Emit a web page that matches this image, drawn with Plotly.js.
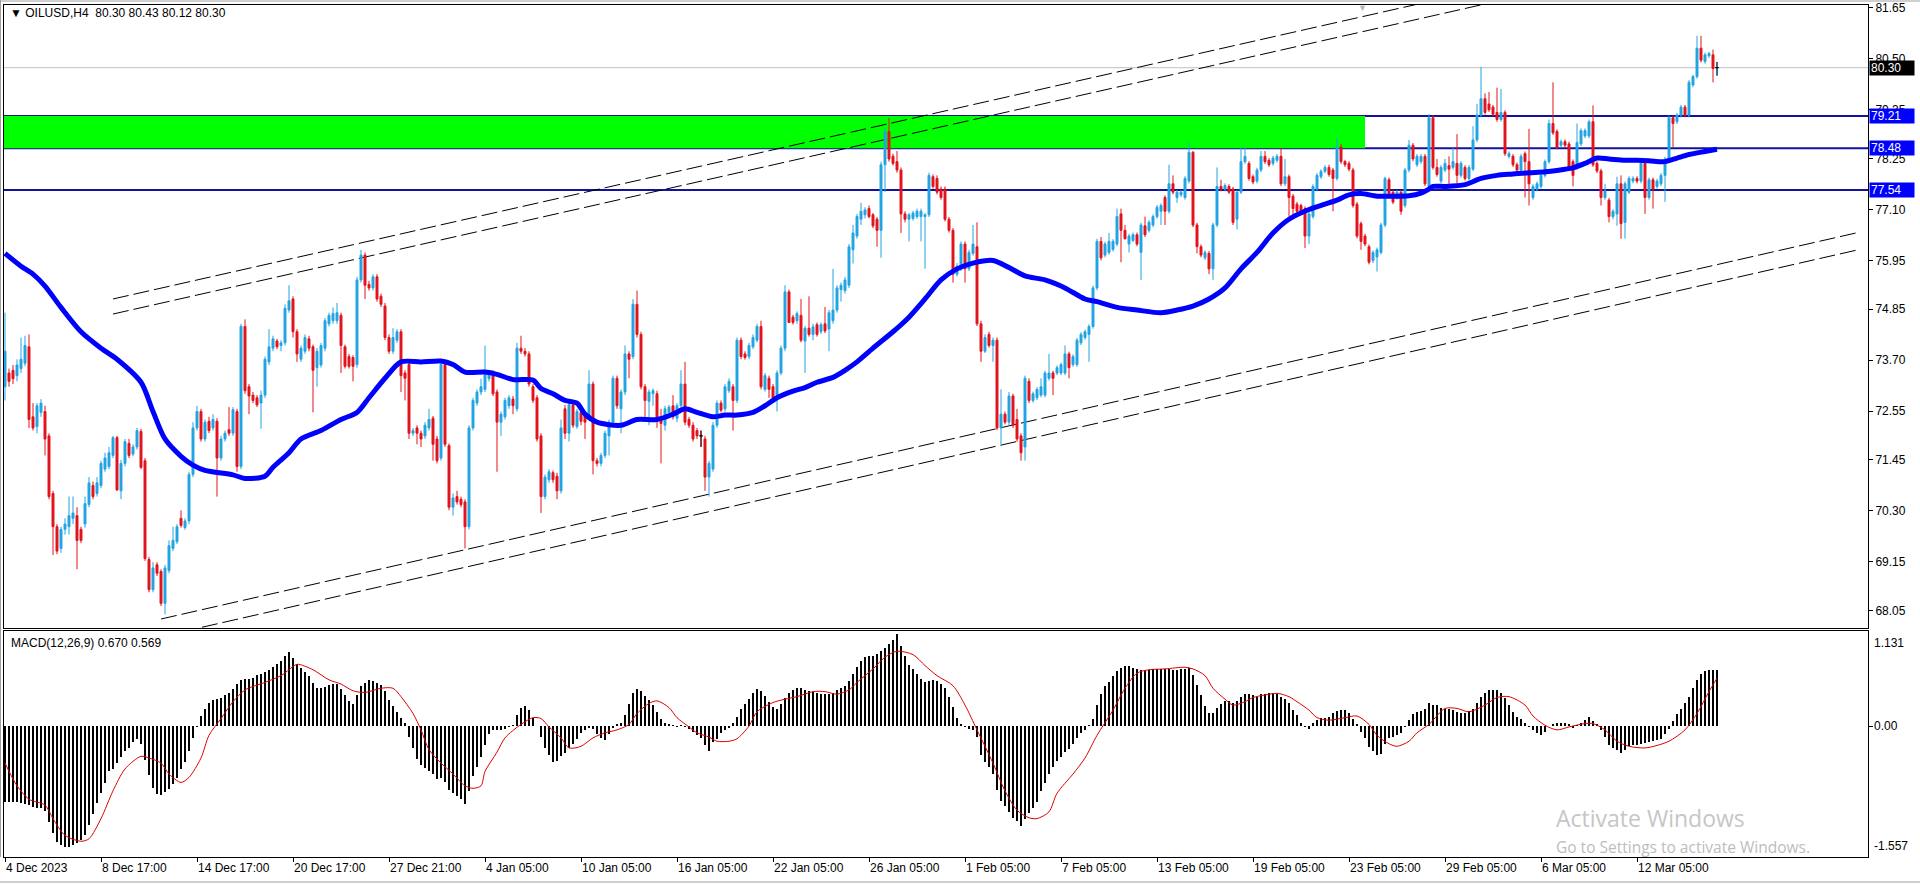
<!DOCTYPE html>
<html><head><meta charset="utf-8">
<script src="https://cdn.plot.ly/plotly-3.0.1.min.js"></script>
<style>html,body{margin:0;padding:0;background:#fff;overflow:hidden}#chart{width:1920px;height:885px}</style>
</head><body><div id="chart"></div>
<script>
const symbolName = "OILUSD,H4";
const priceOpen = [
73.10,73.41,73.47,73.35,73.51,73.63,74.00,72.42,72.20,72.52,
72.54,71.99,70.69,69.94,69.45,69.88,69.94,70.13,70.19,69.88,
70.00,70.44,70.87,70.69,70.87,71.24,71.30,71.55,71.95,70.75,
71.37,71.82,71.58,71.74,72.09,71.43,69.20,68.52,69.08,68.93,
68.21,68.95,69.45,69.60,70.13,69.92,70.07,71.12,72.17,72.54,
71.92,72.32,72.17,72.32,71.49,71.92,72.13,72.05,72.54,71.30,
74.46,73.10,72.91,72.85,72.73,72.91,73.66,73.97,74.13,74.03,
74.09,74.83,75.08,74.34,73.72,73.90,74.18,74.00,73.53,73.59,
73.97,74.52,74.59,74.59,74.71,74.00,73.78,73.76,73.60,75.51,
76.07,75.41,75.33,75.58,75.14,74.92,74.21,73.90,74.15,74.34,
73.41,73.60,72.05,72.17,72.05,71.99,72.17,72.39,71.92,71.49,
73.60,71.77,70.38,70.62,70.56,70.50,69.94,72.17,72.73,72.98,
73.04,73.28,73.41,72.98,72.30,72.42,72.67,72.82,72.60,73.97,
73.90,73.84,73.10,72.85,71.99,70.62,71.00,71.16,71.08,70.75,
72.60,72.05,72.69,72.20,72.52,72.48,72.42,73.16,71.43,71.37,
71.55,71.99,72.30,73.29,72.60,72.98,73.84,73.78,74.96,74.28,
73.10,72.77,72.94,72.94,72.39,72.23,72.52,72.67,72.39,72.67,
73.16,72.36,72.23,72.11,71.99,71.92,71.06,71.24,72.23,72.73,
72.60,73.01,73.10,72.79,74.15,73.84,73.78,74.00,74.15,74.46,
73.04,73.29,73.10,72.91,73.41,73.97,75.24,74.67,74.59,74.71,
74.13,74.42,74.28,74.50,74.34,74.52,74.40,74.59,74.83,75.29,
75.27,75.39,76.19,76.50,76.88,76.98,77.12,76.98,76.88,76.63,
78.11,78.86,78.30,78.18,77.99,77.00,76.88,76.90,76.94,76.94,
76.94,76.98,77.84,77.80,77.56,77.56,76.88,76.63,75.64,75.76,
76.32,75.76,76.11,76.26,74.52,73.90,74.28,74.03,74.15,72.17,
72.48,72.30,72.89,72.36,71.99,71.74,73.22,72.79,72.85,72.91,
72.91,73.29,73.41,73.41,73.41,73.41,73.84,73.60,73.60,74.09,
74.21,74.28,74.46,75.33,76.38,76.07,76.13,76.20,76.32,77.00,
76.63,76.32,76.40,76.53,76.13,76.73,76.63,76.75,76.94,77.06,
77.37,77.06,77.68,77.37,77.43,77.37,77.74,78.39,76.75,76.26,
76.01,76.11,75.76,76.75,77.62,77.56,77.62,77.56,76.88,77.49,
78.18,78.14,77.84,77.74,77.99,78.30,78.21,78.14,78.21,78.30,
77.68,77.84,77.40,77.22,77.19,77.12,76.50,76.94,77.56,77.84,
77.96,78.05,77.99,77.80,78.51,78.18,78.14,77.99,77.22,76.78,
76.50,76.26,75.95,76.03,76.13,76.75,77.77,77.49,77.37,77.49,
77.19,77.99,78.55,78.11,78.18,78.30,77.62,79.17,78.05,77.74,
77.99,78.09,78.05,78.14,77.87,78.05,77.80,78.01,78.67,79.23,
79.60,79.48,79.41,79.29,79.13,79.29,78.30,78.30,78.11,77.99,
78.36,78.18,77.37,77.56,77.62,77.87,78.18,79.04,78.86,78.55,
78.63,78.58,78.18,78.05,78.58,78.76,78.76,79.08,78.14,77.97,
77.37,77.31,76.94,77.00,77.68,76.81,77.49,77.74,77.80,77.74,
78.14,77.37,77.77,77.62,77.68,77.87,78.21,79.17,79.08,79.23,
79.41,79.23,79.91,80.10,80.74,80.44,80.57,80.59,80.30];
const priceHigh = [
74.77,73.51,73.59,73.72,74.21,74.25,74.28,72.73,72.73,72.82,
72.67,72.05,70.75,70.00,69.94,70.13,70.62,70.62,70.38,69.94,
70.62,71.06,70.96,71.06,71.43,71.61,71.74,71.99,71.99,71.45,
71.92,71.92,71.80,72.17,72.15,71.49,69.26,69.14,69.14,68.98,
69.08,69.63,69.94,70.00,70.31,70.13,71.18,72.30,72.67,72.60,
72.36,72.42,72.48,72.39,71.99,72.11,72.64,72.64,72.60,74.52,
74.62,73.16,72.98,72.91,73.01,73.78,74.40,74.25,74.18,74.15,
74.96,75.39,75.14,74.40,74.03,74.28,74.25,74.05,73.97,74.09,
74.65,74.77,74.89,74.99,74.77,74.05,73.84,73.81,75.58,76.19,
76.13,75.49,75.64,75.64,75.20,74.99,74.28,74.42,74.40,74.40,
73.47,73.66,72.17,72.23,72.11,72.30,72.60,72.44,71.99,73.72,
73.66,71.82,70.69,70.75,70.62,70.56,72.23,72.85,73.04,73.28,
74.03,73.47,73.47,73.04,72.54,72.85,72.91,72.89,74.09,74.25,
73.97,73.90,73.16,72.91,72.05,71.12,71.24,71.21,71.16,72.36,
72.69,72.73,72.79,72.60,72.57,72.54,73.47,73.22,71.49,71.61,
72.11,72.36,73.35,73.35,73.04,74.03,73.90,75.08,75.27,74.34,
73.16,73.04,73.06,73.01,72.60,72.67,72.69,72.91,72.73,73.47,
73.66,72.42,72.30,72.17,72.11,71.99,71.43,72.30,72.79,72.79,
73.16,73.29,73.16,74.21,74.21,73.90,74.09,74.28,74.52,74.59,
73.41,73.35,73.16,73.47,74.03,75.39,75.29,74.72,74.80,75.08,
74.47,75.14,74.52,74.55,74.55,74.90,74.83,75.76,75.39,75.45,
75.58,76.32,76.75,77.00,77.25,77.15,77.19,77.02,76.93,78.18,
78.92,79.17,78.36,78.42,78.05,77.06,77.02,77.07,77.12,77.12,
77.02,77.93,77.89,77.87,77.62,77.62,76.93,76.68,75.89,76.38,
76.38,76.19,76.75,76.81,74.59,74.28,74.34,74.21,74.21,73.04,
72.54,72.98,72.94,72.60,72.05,73.35,73.29,72.99,73.09,73.29,
73.46,73.84,73.46,73.58,73.64,74.03,73.89,73.83,74.20,74.33,
74.39,74.51,75.38,76.44,76.48,76.37,76.57,76.43,77.12,77.12,
76.75,76.55,76.58,76.58,76.80,76.94,76.86,76.99,77.20,77.24,
77.42,78.11,77.87,77.54,77.54,77.85,78.61,78.42,76.80,76.31,
76.18,76.16,76.80,78.05,77.77,77.69,77.67,77.61,77.54,78.49,
78.51,78.19,77.89,78.04,78.42,78.42,78.26,78.31,78.35,78.49,
78.24,77.89,77.45,77.27,77.23,77.17,77.05,77.67,77.92,78.01,
78.10,78.11,78.04,78.71,78.58,78.22,78.19,78.04,77.27,76.83,
76.55,76.31,76.18,76.24,76.80,77.84,77.82,77.54,77.54,77.54,
78.04,78.67,78.60,78.35,78.35,78.35,79.25,79.23,78.24,78.10,
78.24,78.30,78.49,78.80,78.19,78.10,78.10,78.98,79.48,80.32,
79.72,79.75,79.46,79.85,79.82,79.34,78.41,78.35,78.16,78.35,
78.41,78.92,77.67,77.73,77.92,78.23,79.13,79.97,78.91,78.68,
78.68,78.63,78.23,79.04,78.93,78.93,79.13,79.45,78.19,78.02,
77.68,77.36,77.11,77.84,77.87,77.73,77.85,77.85,77.85,78.24,
78.19,77.82,77.82,77.79,77.92,78.29,79.22,79.22,79.28,79.46,
79.46,80.02,80.14,81.02,81.02,80.64,80.66,80.71,80.43];
const priceLow = [
72.79,73.10,73.16,73.22,73.41,73.56,72.17,72.11,72.05,72.42,
71.55,70.56,69.30,69.32,69.35,69.76,69.76,70.00,68.98,69.57,
69.92,70.38,70.56,70.62,70.81,71.18,71.24,71.49,70.75,70.56,
71.30,71.49,71.53,71.68,71.24,69.17,68.46,68.46,68.83,68.15,
67.96,68.89,69.39,69.55,69.92,69.87,70.00,71.06,72.11,71.86,
71.86,72.05,72.11,70.62,71.43,71.86,71.99,71.99,71.18,71.24,
72.94,72.48,72.73,72.64,72.15,72.85,73.59,73.90,73.95,73.90,
74.03,74.77,74.21,73.66,73.66,73.84,73.90,72.52,73.10,73.53,
73.90,74.46,74.52,74.52,73.41,73.51,73.51,73.22,73.53,75.45,
75.08,75.27,75.27,75.02,74.90,74.15,73.84,73.84,74.09,72.98,
72.79,71.92,71.99,71.80,71.74,71.92,72.11,71.43,71.37,71.43,
71.74,70.31,70.19,70.44,70.38,69.45,69.88,72.11,72.67,72.91,
72.98,73.22,72.89,71.18,71.99,72.36,72.60,72.48,72.54,73.84,
73.78,73.10,72.73,71.86,70.25,70.56,70.93,70.93,70.56,70.69,
71.92,71.86,72.17,72.15,72.23,71.92,72.36,71.12,71.30,71.30,
71.49,71.55,72.23,72.60,72.05,72.91,73.29,73.72,74.21,73.04,
72.42,72.23,72.67,72.17,71.37,72.11,72.47,72.36,72.30,72.60,
72.23,72.17,71.86,71.92,71.74,70.75,70.62,71.18,72.17,72.52,
72.54,72.96,72.11,72.73,73.72,73.71,73.72,73.95,74.10,73.04,
72.99,72.85,72.79,72.54,73.36,73.90,74.55,74.50,74.52,74.10,
73.41,74.23,74.15,74.23,74.29,74.31,73.90,74.52,74.77,75.02,
75.20,75.33,75.88,76.44,76.75,76.90,76.90,76.68,76.26,76.01,
77.49,78.18,78.09,77.93,76.57,76.81,76.38,76.85,76.89,76.38,
75.76,76.93,77.57,77.44,77.32,76.83,76.58,75.45,75.59,75.71,
75.45,75.71,76.06,74.47,73.66,73.86,73.98,73.66,72.12,71.80,
72.25,72.23,72.17,71.86,71.43,71.43,72.73,72.74,72.80,72.86,
72.86,73.24,72.91,73.36,73.36,73.36,73.29,73.55,73.55,74.04,
74.16,73.66,74.41,75.28,75.95,76.02,76.08,76.15,76.27,75.91,
76.42,76.13,76.36,76.27,75.51,76.48,76.58,76.70,76.89,76.75,
76.75,77.01,77.44,77.25,77.38,77.32,77.69,76.70,76.11,76.02,
75.96,75.64,75.51,76.70,77.51,77.51,77.45,76.75,76.65,77.45,
78.13,77.75,77.67,77.69,77.94,78.13,78.06,78.09,78.16,77.63,
77.63,76.94,76.88,77.01,77.01,76.23,76.32,76.89,77.51,77.79,
77.92,77.84,77.06,77.75,78.13,78.06,77.96,77.14,76.45,76.19,
76.27,75.86,75.89,75.70,76.08,76.70,77.38,77.22,77.32,76.98,
77.14,77.94,78.19,78.06,78.13,77.63,77.57,78.00,77.84,77.69,
77.94,77.68,78.00,77.68,77.82,77.75,77.75,77.97,78.62,79.18,
79.24,79.30,79.20,79.08,79.08,78.31,78.25,78.06,77.94,77.94,
77.37,77.19,77.32,77.51,77.57,77.82,78.13,78.78,78.46,78.50,
78.50,78.00,77.62,78.00,78.53,78.71,78.71,78.06,77.92,77.19,
77.32,76.81,76.88,76.73,76.44,76.44,77.45,77.69,77.69,77.69,
77.00,77.32,77.12,77.57,77.63,77.27,78.16,78.51,79.03,79.18,
79.18,79.18,79.86,80.05,80.42,80.39,80.52,79.97,80.12];
const priceClose = [
73.90,73.22,73.28,73.59,73.72,74.03,72.36,72.17,72.67,72.73,
71.92,70.62,69.94,69.39,69.88,70.00,70.19,70.25,69.63,69.63,
70.46,70.93,70.62,70.93,71.37,71.49,71.61,71.95,70.77,71.37,
71.86,71.55,71.74,72.11,71.28,69.22,68.52,69.01,68.89,68.21,
69.01,69.51,69.63,69.94,69.97,70.07,71.12,72.17,72.54,71.92,
72.30,72.11,72.36,71.49,71.92,72.05,72.05,72.58,71.30,74.46,
73.01,72.89,72.79,72.69,72.91,73.72,74.00,74.18,74.00,74.09,
74.87,75.04,74.34,73.84,73.97,74.21,73.97,73.47,73.90,74.03,
74.59,74.71,74.75,74.77,74.03,73.56,73.56,73.56,75.51,76.07,
75.39,75.33,75.58,75.08,74.96,74.21,73.90,74.21,74.34,73.35,
73.29,72.05,72.11,72.05,71.92,72.23,72.36,71.80,71.43,73.60,
71.80,70.38,70.59,70.50,70.44,69.94,72.17,72.79,72.98,73.10,
73.47,73.41,72.94,72.30,72.48,72.79,72.85,72.67,73.97,73.90,
73.84,73.16,72.79,71.92,70.62,71.06,71.18,71.00,70.75,72.17,
72.05,72.69,72.23,72.54,72.32,72.30,73.16,71.43,71.37,71.55,
72.05,72.30,73.29,72.67,72.98,73.84,73.72,74.96,74.28,73.10,
72.79,72.98,73.01,72.36,72.27,72.60,72.64,72.42,72.67,73.16,
72.30,72.23,71.92,71.99,71.99,71.06,71.37,72.23,72.73,72.57,
73.10,73.22,72.79,74.15,73.78,73.76,74.03,74.21,74.46,73.10,
73.35,73.04,72.85,73.41,73.97,75.24,74.55,74.55,74.75,74.15,
74.42,74.28,74.45,74.28,74.50,74.36,74.77,74.83,75.33,75.39,
75.51,76.26,76.57,76.94,77.06,77.09,76.94,76.73,76.63,78.11,
78.86,78.24,78.14,77.99,77.00,76.88,76.98,77.02,77.06,77.06,
76.98,77.87,77.62,77.49,77.37,76.88,76.63,75.64,75.82,76.32,
75.76,76.13,76.32,74.52,73.90,74.21,74.03,74.15,72.17,72.48,
72.30,72.89,72.23,71.92,71.61,73.29,72.79,72.94,73.04,73.10,
73.41,73.41,73.29,73.53,73.60,73.84,73.53,73.78,74.15,74.28,
74.34,74.46,75.33,76.38,76.01,76.32,76.38,76.38,76.94,76.63,
76.44,76.50,76.53,76.32,76.75,76.53,76.81,76.94,77.15,77.19,
77.06,77.68,77.49,77.49,77.49,77.80,78.39,76.75,76.26,76.07,
76.13,75.76,76.75,77.62,77.56,77.64,77.49,76.81,77.49,78.18,
78.30,77.80,77.72,77.99,78.30,78.18,78.11,78.26,78.30,77.68,
77.84,77.37,77.12,77.06,77.06,76.50,77.00,77.62,77.87,77.96,
78.05,77.89,77.80,78.51,78.18,78.11,78.01,77.19,76.50,76.38,
76.32,75.91,76.13,76.19,76.75,77.80,77.43,77.27,77.49,77.06,
77.99,78.55,78.24,78.30,78.30,77.68,79.17,78.05,77.89,78.05,
78.14,78.01,78.18,77.87,78.14,77.80,78.05,78.67,79.23,79.60,
79.29,79.35,79.25,79.13,79.29,78.36,78.36,78.11,77.99,78.30,
78.18,77.68,77.62,77.68,77.87,78.18,79.04,78.83,78.51,78.63,
78.55,78.05,77.87,78.61,78.88,78.88,79.08,78.11,77.97,77.37,
77.52,76.94,77.06,77.68,76.78,77.68,77.80,77.80,77.74,78.14,
77.37,77.77,77.56,77.74,77.87,78.24,79.17,79.04,79.23,79.41,
79.23,79.97,80.10,80.74,80.47,80.59,80.62,80.28,80.30];

const maIdx = [0,4,7,10,14,19,24,28,34,37,40,44,47,50,57,60,65,67,71,74,79,84,88,91,95,99,104,109,112,115,120,123,127,132,134,137,140,143,145,148,154,158,163,167,170,173,177,180,183,187,190,193,197,200,203,207,210,213,217,222,226,230,234,238,242,247,251,255,260,265,270,273,278,283,289,293,297,301,305,309,313,317,321,326,330,333,336,339,343,347,351,354,356,357,360,365,369,373,377,381,385,390,392,395,398,401,405,408,411,415,418,421,425,428];
const maVal = [76.11,75.82,75.64,75.37,74.89,74.34,73.97,73.72,73.20,72.54,71.92,71.53,71.33,71.21,71.11,71.03,71.08,71.28,71.61,71.92,72.11,72.36,72.52,72.85,73.29,73.66,73.66,73.68,73.60,73.43,73.43,73.38,73.26,73.25,73.06,72.94,72.79,72.73,72.48,72.30,72.23,72.36,72.36,72.48,72.60,72.52,72.42,72.46,72.46,72.52,72.67,72.85,73.00,73.08,73.20,73.31,73.47,73.66,73.97,74.34,74.67,75.08,75.51,75.76,75.89,75.95,75.79,75.60,75.51,75.33,75.08,75.02,74.89,74.83,74.77,74.83,74.92,75.08,75.33,75.76,76.13,76.57,76.88,77.10,77.22,77.31,77.43,77.46,77.40,77.40,77.41,77.47,77.56,77.62,77.62,77.66,77.80,77.87,77.90,77.93,77.95,78.01,78.04,78.14,78.26,78.24,78.21,78.21,78.20,78.18,78.26,78.34,78.41,78.46];

const macdHist = [
-0.904,-0.904,-0.904,-0.904,-0.917,-0.931,-0.944,-0.957,-0.970,-0.970,
-1.010,-1.136,-1.268,-1.380,-1.420,-1.433,-1.433,-1.413,-1.387,-1.354,
-1.301,-1.182,-1.050,-0.917,-0.792,-0.673,-0.540,-0.507,-0.441,-0.362,
-0.296,-0.256,-0.190,-0.150,-0.210,-0.408,-0.587,-0.739,-0.812,-0.818,
-0.785,-0.752,-0.693,-0.613,-0.507,-0.428,-0.296,-0.144,-0.011,0.121,
0.207,0.273,0.312,0.319,0.339,0.365,0.392,0.438,0.498,0.544,
0.564,0.564,0.577,0.603,0.623,0.643,0.670,0.703,0.736,0.769,
0.828,0.881,0.815,0.736,0.689,0.643,0.590,0.511,0.458,0.451,
0.465,0.484,0.498,0.498,0.445,0.365,0.299,0.260,0.365,0.471,
0.511,0.544,0.537,0.517,0.491,0.418,0.306,0.234,0.167,0.101,
0.035,-0.124,-0.256,-0.388,-0.461,-0.501,-0.534,-0.567,-0.626,-0.613,
-0.659,-0.759,-0.798,-0.831,-0.864,-0.924,-0.772,-0.593,-0.487,-0.362,
-0.230,-0.097,-0.051,-0.045,-0.045,-0.031,-0.011,0.015,0.134,0.214,
0.234,0.194,0.101,0.002,-0.124,-0.256,-0.349,-0.428,-0.415,-0.355,
-0.316,-0.256,-0.216,-0.150,-0.084,-0.051,-0.018,-0.038,-0.091,-0.137,
-0.170,-0.091,-0.025,0.028,0.035,0.134,0.266,0.398,0.445,0.412,
0.359,0.306,0.247,0.167,0.088,0.041,0.022,0.008,-0.005,0.015,
-0.005,-0.038,-0.071,-0.104,-0.137,-0.230,-0.296,-0.190,-0.150,-0.084,
-0.045,-0.018,0.041,0.114,0.207,0.266,0.326,0.392,0.445,0.412,
0.359,0.286,0.227,0.207,0.260,0.339,0.398,0.432,0.451,0.451,
0.432,0.418,0.405,0.392,0.385,0.379,0.379,0.398,0.425,0.451,
0.478,0.537,0.617,0.703,0.769,0.822,0.828,0.835,0.861,0.888,
0.927,0.974,1.027,1.100,0.947,0.828,0.729,0.676,0.623,0.564,
0.524,0.537,0.550,0.531,0.504,0.458,0.352,0.227,0.101,0.022,
-0.011,-0.031,-0.045,-0.130,-0.342,-0.428,-0.487,-0.573,-0.759,-0.891,
-0.950,-1.023,-1.090,-1.129,-1.189,-1.103,-1.037,-0.970,-0.898,-0.772,
-0.673,-0.573,-0.481,-0.415,-0.362,-0.309,-0.269,-0.210,-0.144,-0.084,
-0.045,0.008,0.088,0.253,0.385,0.471,0.524,0.590,0.650,0.696,
0.716,0.716,0.696,0.683,0.670,0.670,0.670,0.676,0.676,0.683,
0.683,0.676,0.670,0.670,0.676,0.683,0.696,0.603,0.484,0.365,
0.234,0.160,0.154,0.214,0.266,0.299,0.299,0.279,0.299,0.346,
0.379,0.385,0.365,0.352,0.379,0.385,0.398,0.398,0.385,0.352,
0.319,0.273,0.194,0.127,0.041,-0.011,-0.031,0.035,0.074,0.101,
0.101,0.108,0.154,0.174,0.187,0.187,0.154,0.088,0.022,-0.071,
-0.144,-0.243,-0.296,-0.342,-0.335,-0.210,-0.144,-0.130,-0.111,-0.078,
-0.011,0.074,0.141,0.167,0.174,0.207,0.273,0.253,0.253,0.220,
0.207,0.200,0.187,0.167,0.154,0.154,0.174,0.207,0.273,0.352,
0.398,0.432,0.432,0.425,0.398,0.332,0.247,0.167,0.114,0.081,
0.041,-0.011,-0.051,-0.084,-0.111,-0.071,0.002,0.028,0.035,0.035,
0.035,0.022,-0.018,0.008,0.041,0.074,0.108,0.061,0.022,-0.045,
-0.130,-0.223,-0.256,-0.289,-0.322,-0.283,-0.236,-0.230,-0.223,-0.210,
-0.203,-0.190,-0.183,-0.170,-0.150,-0.091,-0.031,0.061,0.141,0.207,
0.273,0.352,0.451,0.550,0.617,0.656,0.670,0.670,0.670];

const sigIdx = [0,3,6,10,12,15,19,21,24,27,30,34,36,39,41,44,46,49,51,54,57,60,65,69,71,73,77,81,84,87,90,94,97,99,102,104,106,109,112,115,117,119,120,123,125,129,132,134,136,139,141,144,147,150,153,156,158,161,163,166,168,171,173,176,178,181,183,186,188,192,195,198,202,205,208,211,213,217,220,223,227,230,233,237,240,243,247,250,253,256,258,261,263,267,270,273,277,280,283,286,290,295,297,300,302,305,307,310,312,315,318,321,323,326,328,331,335,338,341,343,346,348,351,353,356,357,360,363,366,370,373,376,380,382,385,388,391,395,397,400,403,406,410,413,416,420,423,426,428];
const sigVal = [-0.44,-0.71,-0.87,-0.94,-1.10,-1.30,-1.37,-1.34,-1.10,-0.77,-0.51,-0.36,-0.38,-0.44,-0.57,-0.67,-0.61,-0.38,-0.11,0.09,0.29,0.43,0.52,0.60,0.67,0.735,0.67,0.55,0.50,0.42,0.40,0.45,0.45,0.35,0.15,-0.045,-0.28,-0.44,-0.57,-0.71,-0.74,-0.71,-0.54,-0.31,-0.14,0.02,0.10,0.09,-0.01,-0.14,-0.26,-0.24,-0.14,-0.08,-0.045,0.02,0.15,0.27,0.30,0.22,0.10,-0.01,-0.08,-0.13,-0.18,-0.18,-0.15,0.00,0.17,0.28,0.32,0.35,0.41,0.41,0.38,0.43,0.52,0.68,0.82,0.89,0.85,0.72,0.60,0.48,0.25,-0.045,-0.44,-0.77,-1.00,-1.09,-1.10,-1.02,-0.80,-0.57,-0.38,-0.11,0.19,0.45,0.63,0.67,0.68,0.70,0.68,0.60,0.45,0.32,0.25,0.29,0.34,0.37,0.39,0.35,0.29,0.19,0.10,0.07,0.10,0.12,0.02,-0.11,-0.21,-0.24,-0.18,-0.08,0.02,0.07,0.21,0.21,0.17,0.25,0.34,0.35,0.25,0.12,0.01,-0.045,-0.01,0.03,0.03,-0.045,-0.18,-0.24,-0.26,-0.23,-0.18,-0.045,0.15,0.41,0.569];

const hLevels = [79.21, 78.48, 77.54];
const currentPrice = 80.30;
const zoneTop = 79.21, zoneBottom = 78.48, zoneEndIdx = 340;
const trendX0 = [27, 27, 39, 39];
const trendY0 = [75.08, 74.74, 67.857, 67.46];
const trendX1 = [400, 400, 463.25, 463.25];
const trendY1 = [82.69, 82.35, 76.58, 76.19];
const priceTicks = [81.65, 80.50, 79.35, 78.25, 77.10, 75.95, 74.85, 73.70, 72.55, 71.45, 70.30, 69.15, 68.05];
const macdScale = [1.131, 0.00, -1.557];
const timeTickIdx = [0,24,48,72,96,120,144,168,192,216,240,264,288,312,336,360,384,408];
const timeTickText = ["4 Dec 2023","8 Dec 17:00","14 Dec 17:00","20 Dec 17:00","27 Dec 21:00","4 Jan 05:00","10 Jan 05:00","16 Jan 05:00","22 Jan 05:00","26 Jan 05:00","1 Feb 05:00","7 Feb 05:00","13 Feb 05:00","19 Feb 05:00","23 Feb 05:00","29 Feb 05:00","6 Mar 05:00","12 Mar 05:00"];

// ---------- drawing ----------
const W = 1920, H = 885;
const pxL = 4, pxR = 1868, mainTop = 5, mainBot = 628, macdTop = 631, macdBot = 857;
const BULL = '#22a4e2', BEAR = '#e2131b', FONT = '"Liberation Sans", Arial, sans-serif';
const idx = priceOpen.map((_, i) => i);

const candles = {
  type: 'candlestick', x: idx, open: priceOpen, high: priceHigh, low: priceLow, close: priceClose,
  xaxis: 'x', yaxis: 'y', whiskerwidth: 0, hoverinfo: 'skip', showlegend: false,
  increasing: {line: {color: BULL, width: 1}, fillcolor: BULL},
  decreasing: {line: {color: BEAR, width: 1}, fillcolor: BEAR}
};
const dx = [], dy = [];
idx.forEach(i => {
  if (priceOpen[i] === priceClose[i]) {
    dx.push(i, i, null, i - 0.5, i + 0.5, null);
    dy.push(priceLow[i], priceHigh[i], null, priceOpen[i], priceOpen[i], null);
  }
});
const dojis = {type: 'scatter', mode: 'lines', x: dx, y: dy, xaxis: 'x', yaxis: 'y',
  line: {color: '#000', width: 1}, hoverinfo: 'skip', showlegend: false};
const ma = {type: 'scatter', mode: 'lines', x: maIdx, y: maVal, xaxis: 'x', yaxis: 'y',
  line: {color: '#0000ff', width: 5, shape: 'spline', smoothing: 0.8}, hoverinfo: 'skip', showlegend: false};
const hist = {type: 'bar', x: idx, y: macdHist, xaxis: 'x2', yaxis: 'y2', width: 0.68,
  marker: {color: '#000', line: {width: 0}}, hoverinfo: 'skip', showlegend: false};
const sig = {type: 'scatter', mode: 'lines', x: sigIdx, y: sigVal, xaxis: 'x2', yaxis: 'y2',
  line: {color: '#e00000', width: 1, shape: 'spline', smoothing: 0.8}, hoverinfo: 'skip', showlegend: false};

const shapes = [];
shapes.push({type: 'rect', xref: 'x', yref: 'y', x0: -1, x1: zoneEndIdx, y0: zoneBottom, y1: zoneTop,
  fillcolor: '#00ff00', line: {width: 0}, layer: 'below'});
shapes.push({type: 'line', xref: 'x domain', x0: 0, x1: 1, yref: 'y', y0: currentPrice, y1: currentPrice,
  line: {color: '#c0c0c0', width: 1}, layer: 'below'});
hLevels.forEach(v => shapes.push({type: 'line', xref: 'x domain', x0: 0, x1: 1, yref: 'y', y0: v, y1: v,
  line: {color: '#12129e', width: 2}, layer: 'below'}));
trendX0.forEach((x0, k) => shapes.push({type: 'line', xref: 'x', yref: 'y', x0: x0, y0: trendY0[k], x1: trendX1[k], y1: trendY1[k],
  line: {color: '#000', width: 1, dash: '16px,5px'}, layer: 'below'}));
// window chrome
shapes.push({type: 'line', xref: 'paper', yref: 'paper', x0: 0.5 / W, x1: 0.5 / W, y0: 1 - macdBot / H, y1: 1, line: {color: '#a0a0a0', width: 1}});
shapes.push({type: 'line', xref: 'paper', yref: 'paper', x0: 0, x1: 1, y0: 1 - 1 / H, y1: 1 - 1 / H, line: {color: '#a0a0a0', width: 1}});
shapes.push({type: 'line', xref: 'paper', yref: 'paper', x0: 0, x1: 1, y0: 3 / H, y1: 3 / H, line: {color: '#a0a0a0', width: 1}});

const ann = [];
const last = priceOpen.length - 1;
ann.push({xref: 'paper', yref: 'paper', x: 8 / W, y: 1 - 13 / H, xanchor: 'left', yanchor: 'middle', showarrow: false,
  text: '\u25BC ' + symbolName + '\u00a0\u00a0' + [priceOpen[last], priceHigh[last], priceLow[last], priceClose[last]].map(v => v.toFixed(2)).join(' '),
  font: {family: FONT, size: 12, color: '#000'}});
ann.push({xref: 'paper', yref: 'paper', x: 9 / W, y: 1 - 643 / H, xanchor: 'left', yanchor: 'middle', showarrow: false,
  text: 'MACD(12,26,9) ' + macdHist[last].toFixed(3) + ' ' + sigVal[sigVal.length - 1].toFixed(3),
  font: {family: FONT, size: 12, color: '#000'}});
// value boxes on the price scale
hLevels.forEach(v => ann.push({xref: 'paper', yref: 'y', x: (pxR + 1) / W, y: v, xanchor: 'left', yanchor: 'middle', showarrow: false,
  text: v.toFixed(2), bgcolor: '#0000ff', borderpad: 1, width: 42, height: 12, align: 'left',
  font: {family: FONT, size: 12, color: '#fff'}}));
ann.push({xref: 'paper', yref: 'y', x: (pxR + 1) / W, y: currentPrice, xanchor: 'left', yanchor: 'middle', showarrow: false,
  text: currentPrice.toFixed(2), bgcolor: '#000', borderpad: 1, width: 42, height: 12, align: 'left',
  font: {family: FONT, size: 12, color: '#fff'}});
// MACD scale labels
ann.push({xref: 'paper', yref: 'y2', x: (pxR + 4) / W, y: macdScale[0], xanchor: 'left', yanchor: 'top', yshift: -3, showarrow: false,
  text: macdScale[0].toFixed(3), font: {family: FONT, size: 12, color: '#000'}});
ann.push({xref: 'paper', yref: 'y2', x: (pxR + 4) / W, y: macdScale[1], xanchor: 'left', yanchor: 'middle', showarrow: false,
  text: macdScale[1].toFixed(2), font: {family: FONT, size: 12, color: '#000'}});
ann.push({xref: 'paper', yref: 'y2', x: (pxR + 4) / W, y: macdScale[2], xanchor: 'left', yanchor: 'bottom', yshift: 2, showarrow: false,
  text: macdScale[2].toFixed(3), font: {family: FONT, size: 12, color: '#000'}});
// chart-shift marker
ann.push({xref: 'paper', yref: 'paper', x: 1362 / W, y: 1 - 8 / H, xanchor: 'center', yanchor: 'middle', showarrow: false,
  text: '\u25BC', font: {family: FONT, size: 9, color: '#b8b8b8'}});
// OS watermark
ann.push({xref: 'paper', yref: 'paper', x: 1554 / W, y: 1 - 818 / H, xanchor: 'left', yanchor: 'middle', showarrow: false,
  text: 'Activate Windows', font: {family: '"Open Sans", sans-serif', size: 23, color: '#c6c6c6'}});
ann.push({xref: 'paper', yref: 'paper', x: 1554 / W, y: 1 - 847 / H, xanchor: 'left', yanchor: 'middle', showarrow: false,
  text: 'Go to Settings to activate Windows.', font: {family: '"Open Sans", sans-serif', size: 15.5, color: '#bdbdbd'}});

const xRange = [-0.25, -0.25 + (pxR - pxL) / 4];
const layout = {
  width: W, height: H, margin: {l: 0, r: 0, t: 0, b: 0}, paper_bgcolor: '#fff', plot_bgcolor: '#fff',
  showlegend: false, hovermode: false, bargap: 0, boxgap: 0.3,
  font: {family: FONT, size: 12, color: '#000'},
  xaxis: {domain: [pxL / W, pxR / W], range: xRange, anchor: 'y', showticklabels: false, ticks: '',
    showgrid: false, zeroline: false, showline: true, linecolor: '#000', linewidth: 1, mirror: true,
    rangeslider: {visible: false}, fixedrange: true},
  xaxis2: {domain: [pxL / W, pxR / W], range: xRange, anchor: 'y2', matches: 'x', showgrid: false, zeroline: false,
    showline: true, linecolor: '#000', linewidth: 1, mirror: true, ticks: 'outside', ticklen: 4, tickcolor: '#000',
    tickmode: 'array', tickvals: timeTickIdx, ticktext: timeTickText, ticklabelposition: 'outside right',
    tickfont: {family: FONT, size: 12, color: '#000'}, rangeslider: {visible: false}, fixedrange: true},
  yaxis: {domain: [1 - mainBot / H, 1 - mainTop / H], range: [67.654, 81.715], anchor: 'x', side: 'right',
    showgrid: false, zeroline: false, showline: true, linecolor: '#000', linewidth: 1, mirror: true,
    ticks: 'outside', ticklen: 4, tickcolor: '#000', tickmode: 'array', tickvals: priceTicks,
    ticktext: priceTicks.map(v => v.toFixed(2)), tickfont: {family: FONT, size: 12, color: '#000'}, fixedrange: true},
  yaxis2: {domain: [1 - macdBot / H, 1 - macdTop / H], range: [macdScale[2], macdScale[0]], anchor: 'x2', side: 'right',
    showgrid: false, zeroline: false, showline: true, linecolor: '#000', linewidth: 1, mirror: true,
    ticks: 'outside', ticklen: 4, tickcolor: '#000', tickmode: 'array', tickvals: [0], showticklabels: false, fixedrange: true},
  shapes: shapes, annotations: ann
};
Plotly.newPlot('chart', [hist, sig, candles, dojis, ma], layout, {staticPlot: true, displayModeBar: false});
</script>
</body></html>
